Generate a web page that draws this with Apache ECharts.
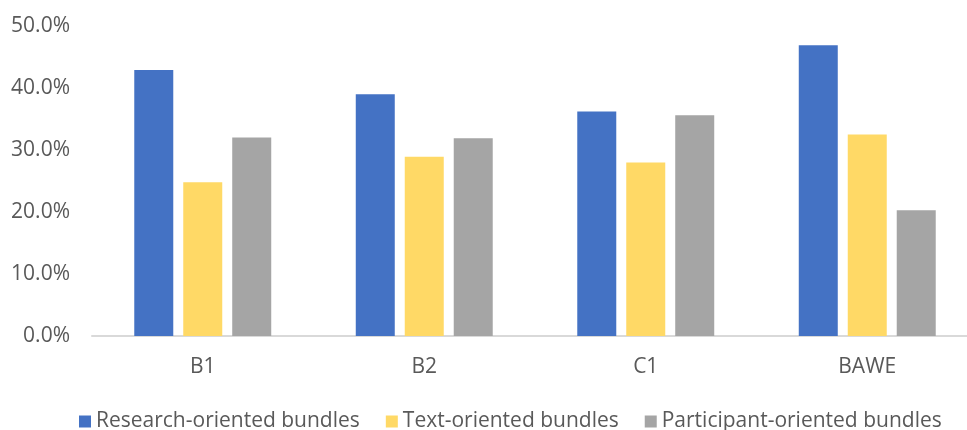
<!DOCTYPE html>
<html>
<head>
<meta charset="utf-8">
<script src="https://cdn.jsdelivr.net/npm/echarts@6/dist/echarts.min.js"></script>
<style>
  html, body { margin: 0; padding: 0; background: #ffffff; }
  #chart { width: 967px; height: 430px; }
</style>
</head>
<body>
<div id="chart"></div>
<script>
// Share of bundle types by proficiency group (percent)
const categories = ['B1', 'B2', 'C1', 'BAWE'];
const seriesNames = ['Research-oriented bundles', 'Text-oriented bundles', 'Participant-oriented bundles'];
const researchValues = [42.9, 39.0, 36.2, 46.9];
const textValues = [24.8, 28.9, 28.0, 32.5];
const participantValues = [32.0, 31.9, 35.6, 20.3];
const seriesColors = ['#4472C4', '#FFD966', '#A5A5A5'];

const FONT = '"Open Sans", "Noto Sans", sans-serif';
const TEXT_COLOR = '#595959';

const chart = echarts.init(document.getElementById('chart'), null, { renderer: 'canvas' });

const seriesData = [researchValues, textValues, participantValues];

chart.setOption({
  animation: false,
  backgroundColor: '#ffffff',
  grid: {
    left: 92, top: 26, width: 886, bottom: 94,
    containLabel: false,
    outerBoundsMode: 'none'
  },
  legend: {
    data: seriesNames,
    left: 74,
    top: 406,
    icon: 'rect',
    itemWidth: 12,
    itemHeight: 12,
    itemGap: 26,
    textStyle: { fontFamily: FONT, fontSize: 21, color: TEXT_COLOR }
  },
  xAxis: {
    type: 'category',
    data: categories,
    axisLine: { show: true, lineStyle: { color: '#d9d9d9', width: 2 } },
    axisTick: { show: false },
    axisLabel: { fontFamily: FONT, fontSize: 21, color: TEXT_COLOR, margin: 21 },
    splitLine: { show: false }
  },
  yAxis: {
    type: 'value',
    min: 0,
    max: 50,
    interval: 10,
    axisLine: { show: false },
    axisTick: { show: false },
    splitLine: { show: false },
    axisLabel: {
      fontFamily: FONT, fontSize: 21, color: TEXT_COLOR, margin: 22,
      formatter: v => v.toFixed(1) + '%'
    }
  },
  series: seriesNames.map((name, i) => ({
    name: name,
    type: 'bar',
    data: seriesData[i],
    barWidth: 39,
    barGap: '25.6%',
    itemStyle: { color: seriesColors[i] }
  }))
});
</script>
</body>
</html>
